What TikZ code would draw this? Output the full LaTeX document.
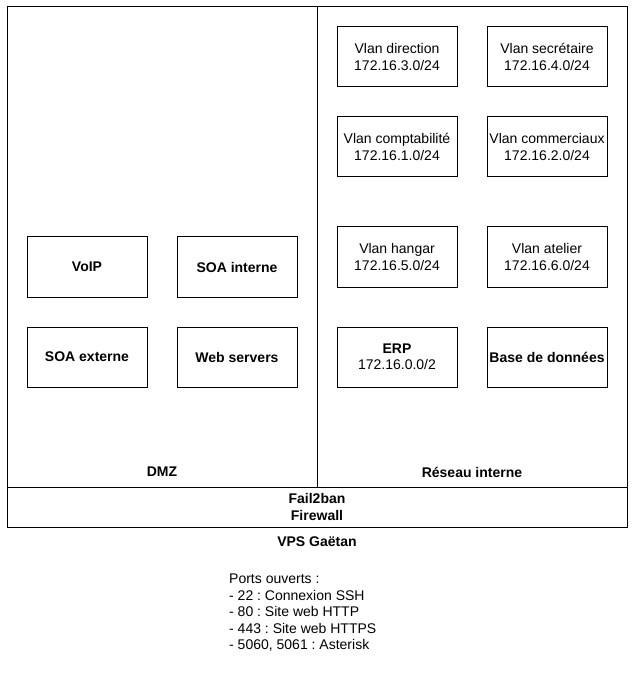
\documentclass[tikz,border=0pt]{standalone}
\usepackage{fontspec}
\setmainfont{Liberation Sans}
\frenchspacing
\begin{document}
\begin{tikzpicture}[x=1pt, y=-1pt, font=\fontsize{14}{16.5}\selectfont,
    box/.style = {draw, line width=1pt, minimum width=120pt, minimum height=60pt, align=center, inner sep=0pt},
    zone/.style = {draw, line width=1pt, inner sep=0pt},
    title/.style = {font=\fontsize{14}{16.5}\selectfont\bfseries, align=center}]
    \useasboundingbox (0,0) rectangle (642,692);
    % zones
    \node[zone, minimum width=310pt, minimum height=480pt] (dmz) at (162,247) {};
    \node[zone, minimum width=310pt, minimum height=480pt] (lan) at (472,247) {};
    \node[zone, minimum width=620pt, minimum height=40pt] (fw) at (317,507) {};
    \node[title] (fwlabel) at (fw) {Fail2ban\\Firewall};
    \node[title] (dmzlabel) at (162,472) {DMZ};
    \node[title] (lanlabel) at (472,472) {Réseau interne};
    \node[title] (vps) at (317,542) {VPS Gaëtan};
    % DMZ
    \node[box, font=\fontsize{14}{16.5}\selectfont\bfseries] (voip) at (87,267) {VoIP};
    \node[box, font=\fontsize{14}{16.5}\selectfont\bfseries] (soaint) at (237,267) {SOA interne};
    \node[box, font=\fontsize{14}{16.5}\selectfont\bfseries] (soaext) at (87,357) {SOA externe};
    \node[box, font=\fontsize{14}{16.5}\selectfont\bfseries] (web) at (237,357) {Web servers};
    % reseau interne
    \node[box] (direction) at (397,57) {Vlan direction\\172.16.3.0/24};
    \node[box] (secretaire) at (547,57) {Vlan secrétaire\\172.16.4.0/24};
    \node[box] (compta) at (397,147) {Vlan comptabilité\\172.16.1.0/24};
    \node[box] (commerciaux) at (547,147) {Vlan commerciaux\\172.16.2.0/24};
    \node[box] (hangar) at (397,257) {Vlan hangar\\172.16.5.0/24};
    \node[box] (atelier) at (547,257) {Vlan atelier\\172.16.6.0/24};
    \node[box] (erp) at (397,357) {\textbf{ERP}\\172.16.0.0/2};
    \node[box, font=\fontsize{14}{16.5}\selectfont\bfseries] (bdd) at (547,357) {Base de données};
    % ports
    \node[anchor=west, align=left, inner sep=0pt] (ports) at (229,613) {Ports ouverts :\\- 22 : Connexion SSH\\- 80 : Site web HTTP\\- 443 : Site web HTTPS\\- 5060, 5061 : Asterisk};
\end{tikzpicture}
\end{document}
